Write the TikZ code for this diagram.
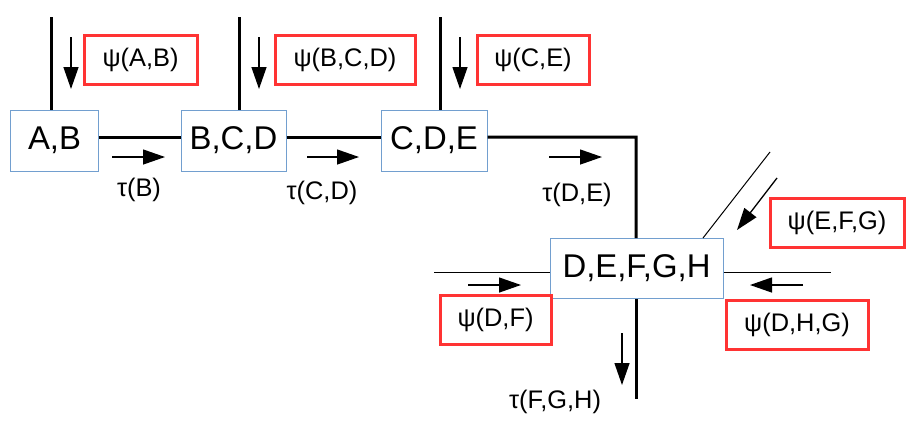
\documentclass[tikz,border=0pt]{standalone}
\usepackage{fontspec}
\setmainfont{Liberation Sans}
\usetikzlibrary{arrows.meta}

\definecolor{cliqueblue}{RGB}{114,159,207}
\definecolor{msgred}{RGB}{255,51,51}

\tikzset{
    clique/.style={draw=cliqueblue, line width=1bp, fill=white, inner sep=0pt,
        minimum height=61bp, font=\fontsize{33}{37}\selectfont},
    msgbox/.style={draw=msgred, line width=3bp, inner sep=0pt,
        minimum height=49bp, font=\fontsize{25.5}{29}\selectfont},
    sepline/.style={line width=3bp},
    flow/.style={line width=1.3bp, -{Triangle[length=22bp,width=15bp]}},
    taulabel/.style={font=\fontsize{25.5}{29}\selectfont},
}

\begin{document}
\begin{tikzpicture}[x=1bp, y=-1bp]
    \useasboundingbox (0,0) rectangle (910,426);

    % Cliques
    \node[clique, minimum width=87bp]  (ab)    at (54.5,140.5)  {A,B};
    \node[clique, minimum width=105bp] (bcd)   at (233.5,140.5) {B,C,D};
    \node[clique, minimum width=106bp] (cde)   at (434,140.5)   {C,D,E};
    \node[clique, minimum width=173bp, minimum height=60bp] (defgh) at (636.5,268.5) {D,E,F,G,H};

    % Free ends of the separator lines
    \coordinate (abtop)   at (51,17);
    \coordinate (bcdtop)  at (239,17);
    \coordinate (cdetop)  at (440,17);
    \coordinate (corner)  at (636,137);
    \coordinate (fghend)  at (636,399);
    \coordinate (dfend)   at (434,272);
    \coordinate (dhgend)  at (831,272);
    \coordinate (efgend)  at (770,152);

    % Thick separator lines
    \draw[sepline] (abtop) -- (abtop |- ab.north);
    \draw[sepline] (bcdtop) -- (bcdtop |- bcd.north);
    \draw[sepline] (cdetop) -- (cdetop |- cde.north);
    \draw[sepline] ([yshift=3.5bp]ab.east) -- ([yshift=3.5bp]bcd.west);
    \draw[sepline] ([yshift=3.5bp]bcd.east) -- ([yshift=3.5bp]cde.west);
    \draw[sepline] ([yshift=3.5bp]cde.east) -- (corner) -- (corner |- defgh.north);
    \draw[sepline] (fghend |- defgh.south) -- (fghend);

    % Thin incoming lines
    \draw[line width=1bp] (dfend) -- (dfend -| defgh.west);
    \draw[line width=1bp] (defgh.east |- dhgend) -- (dhgend);
    \draw[line width=1bp] ([xshift=66.5bp]defgh.north) -- (efgend);

    % Message directions
    \draw[flow] (71,37) -- (71,89);
    \draw[flow] (259,37) -- (259,89);
    \draw[flow] (460,37) -- (460,89);
    \draw[flow] (112,157) -- (165,157);
    \draw[flow] (307,157) -- (359,157);
    \draw[flow] (549,157) -- (602,157);
    \draw[flow] (777,178) -- (737,230);
    \draw[flow] (468,285) -- (521,285);
    \draw[flow] (803,285) -- (750,285);
    \draw[flow] (622,333) -- (622,385);

    % Potentials
    \node[msgbox, minimum width=113bp] (psiab)  at (140.5,59.5) {ψ(A,B)};
    \node[msgbox, minimum width=140bp] (psibcd) at (345,60)     {ψ(B,C,D)};
    \node[msgbox, minimum width=112bp] (psice)  at (533,60)     {ψ(C,E)};
    \node[msgbox, minimum width=134bp] (psiefg) at (837,222.5)  {ψ(E,F,G)};
    \node[msgbox, minimum width=111bp] (psidf)  at (495.5,320)  {ψ(D,F)};
    \node[msgbox, minimum width=142bp] (psidhg) at (797,325)    {ψ(D,H,G)};

    % Separator labels
    \node[taulabel] (taub)   at (139,190) {τ(B)};
    \node[taulabel] (taucd)  at (322,193) {τ(C,D)};
    \node[taulabel] (taude)  at (577,195) {τ(D,E)};
    \node[taulabel] (taufgh) at (555,402) {τ(F,G,H)};
\end{tikzpicture}
\end{document}
